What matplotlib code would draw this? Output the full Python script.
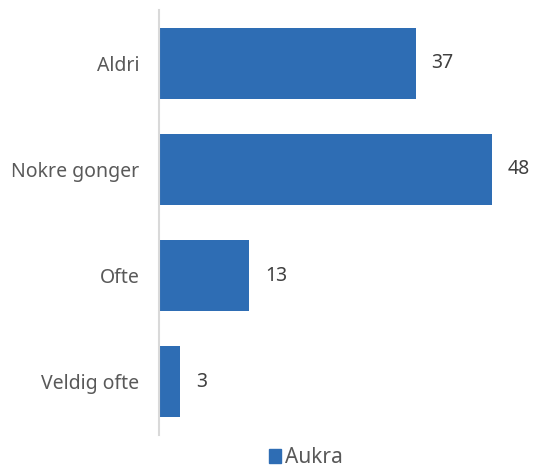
import matplotlib
matplotlib.use("Agg")
import matplotlib.pyplot as plt
from matplotlib.patches import Patch

categories = ["Aldri", "Nokre gonger", "Ofte", "Veldig ofte"]
values = [37, 48, 13, 3]
series_name = "Aukra"

plt.rcParams['font.family'] = ['Noto Sans', 'DejaVu Sans']
color = "#2E6DB4"
textc = "#595959"

fig = plt.figure(figsize=(5.35, 4.72), dpi=100)
ax = fig.add_axes([159/535, 37/472, 376/535, 425/472])
y = list(range(len(categories)))
ax.barh(y, values, height=0.67, color=color)
ax.set_ylim(3.5, -0.5)
ax.set_xlim(0, 54.2)
ax.set_yticks(y)
ax.set_yticklabels(categories, color=textc, fontsize=14)
ax.tick_params(axis='y', length=0, pad=14)
ax.set_xticks([])
for s in ["top", "right", "bottom"]:
    ax.spines[s].set_visible(False)
ax.spines["left"].set_color("#D9D9D9")
ax.spines["left"].set_linewidth(1.5)
for yi, v in zip(y, values):
    ax.text(v + 2.3, yi, str(v), va="center", ha="left", fontsize=14, color="#404040")

fig.legend(handles=[Patch(color=color, label=series_name)], loc="lower center",
           bbox_to_anchor=(0.572, -0.032), frameon=False, fontsize=15,
           handlelength=0.6, handleheight=0.6, handletextpad=0.2, labelcolor=textc)
fig.savefig("out.png", dpi=100)
